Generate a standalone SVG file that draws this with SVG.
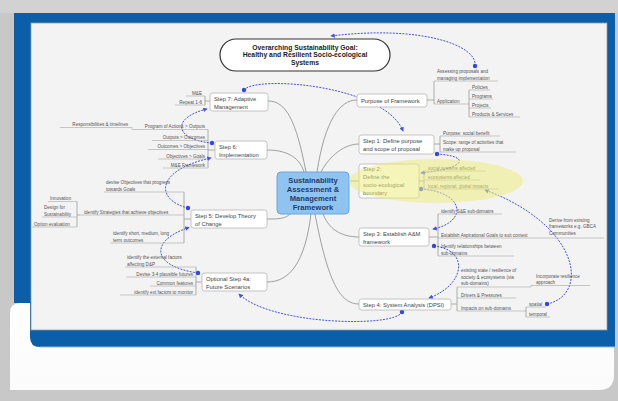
<svg xmlns="http://www.w3.org/2000/svg" width="618" height="401" viewBox="0 0 618 401">
<defs>
<style>
text{font-family:"Liberation Sans",Arial,sans-serif;}
.title{font-size:6.8px;font-weight:bold;fill:#222;text-anchor:middle;}
.core{font-size:7.6px;font-weight:bold;fill:#1d3c6e;text-anchor:middle;}
.step{font-size:5.8px;fill:#444;}
.sub{font-size:4.6px;fill:#555;}
.end{text-anchor:end;}
.box{fill:#fff;stroke:#b5b5b5;stroke-width:0.8;}
.ul{stroke:#a8a8a8;stroke-width:0.6;fill:none;}
.br{stroke:#9a9a9a;stroke-width:0.8;fill:none;}
.rel{stroke:#4654dc;stroke-width:1;stroke-dasharray:2 1.2;fill:none;marker-end:url(#arr);}
.dot{fill:#3347e0;}
</style>
<marker id="arr" viewBox="0 0 6 6" refX="5" refY="3" markerWidth="4.5" markerHeight="4.5" markerUnits="userSpaceOnUse" orient="auto">
<path d="M0,0 L6,3 L0,6 z" fill="#4654dc"/>
</marker>
<linearGradient id="bot" x1="0" y1="0" x2="0" y2="1">
<stop offset="0" stop-color="#ffffff"/><stop offset="1" stop-color="#fbfbfb"/>
</linearGradient>
</defs>

<!-- background / frame -->
<rect x="0" y="0" width="618" height="401" fill="#c8c8c8"/>
<rect x="0" y="0" width="618" height="13" fill="#d2d2d2"/>
<path d="M10,313 Q10,303 20,303 H614 V375 Q614,390 599,390 H10 Z" fill="url(#bot)"/>
<path d="M14,13 H615 V347 H40 Q30,347 30,337 V303 H14 Z" fill="#0b5ea8"/>
<path d="M40,347 H615" stroke="#8ec0e6" stroke-width="1"/>
<rect x="31" y="23" width="576" height="307" fill="#f3f3f3" stroke="#9a9a9a" stroke-width="0.8"/>

<!-- connectors -->
<g id="connectors">
<g fill="none" stroke="#8a8a8a" stroke-width="0.8">
<path d="M306,172 C296,120 286,101 268,101"/>
<path d="M304,172 C299,156 285,150 267,150"/>
<path d="M317,172 C325,120 340,100 357,100"/>
<path d="M321,172 C330,155 345,144 359,144"/>
<path d="M349,181 H359"/>
<path d="M290,214 C285,219 278,219 267,219"/>
<path d="M311,214 C305,262 290,282 267,282"/>
<path d="M323,214 C330,232 345,237 359,237"/>
<path d="M315,214 C328,282 340,304 359,304"/>
</g>
<!-- right side brackets -->
<path class="br" d="M427,100 H434 M434,81 V104 M468,104 H469 M469,90 V117"/>
<path class="br" d="M434,144 H440 M440,136 V152"/>
<path class="br" d="M419,181 H424 M424,171 V189"/>
<path class="br" d="M429,237 H438 M438,214 V256"/>
<path class="br" d="M451,304 H457 M457,287 V311 M525,311 H526 M526,307 V317"/>
<!-- left side brackets -->
<path class="br" d="M210,101 H205 M205,96 V105"/>
<path class="br" d="M215,150 H208 M208,129.5 V168"/>
<path class="br" d="M191,219 H184 M184,192 V243 M80,215 H77 M77,201.5 V227"/>
<path class="br" d="M202,282 H196 M196,267 V295"/>
<!-- relationship links -->
<path class="rel" d="M475,66 C478,45 420,25 331,36"/>
<path class="rel" d="M244,90 C255,75 385,85 403,131"/>
<path class="rel" d="M212,143 C175,140 170,118 207,109"/>
<path class="rel" d="M188,208 C155,200 155,170 211,158"/>
<path class="rel" d="M198,273 C150,266 150,240 189,227.5"/>
<path class="rel" d="M402,312 C395,328 270,325 239,294"/>
<path class="rel" d="M437,154 C470,156 468,168 421,173"/>
<path class="rel" d="M421,189 C465,192 468,222 433,229"/>
<path class="rel" d="M434,246 C470,250 465,285 429,298"/>
<path class="rel" d="M547,304 C590,295 580,225 485,190"/>
<circle class="dot" cx="475" cy="66" r="2.2"/>
<circle class="dot" cx="244" cy="90" r="2.2"/>
<circle class="dot" cx="212" cy="143" r="2.2"/>
<circle class="dot" cx="188" cy="208" r="2.2"/>
<circle class="dot" cx="198" cy="273" r="2.2"/>
<circle class="dot" cx="402" cy="312" r="2.2"/>
<circle class="dot" cx="437" cy="154" r="2.2"/>
<circle class="dot" cx="421" cy="189" r="2.2"/>
<circle class="dot" cx="434" cy="246" r="2.2"/>
<circle class="dot" cx="547" cy="304" r="2.2"/>
</g>

<!-- title -->
<g id="goal">
<rect x="220" y="39" width="170" height="32" rx="16" fill="#fff" stroke="#333" stroke-width="1.2"/>
<text class="title" x="305" y="49.5">Overarching Sustainability Goal:</text>
<text class="title" x="305" y="57">Healthy and Resilient Socio-ecological</text>
<text class="title" x="305" y="64.5">Systems</text>
</g>

<!-- central -->
<g id="central">
<rect x="277" y="172" width="72" height="42" rx="4" fill="#8fc4f0" stroke="#6aa6dc" stroke-width="1"/>
<text class="core" x="313" y="182.5">Sustainability</text>
<text class="core" x="313" y="191.5">Assessment &amp;</text>
<text class="core" x="313" y="200.5">Management</text>
<text class="core" x="313" y="209.5">Framework</text>
</g>

<!-- steps -->
<g id="step7">
<rect class="box" x="210" y="93" width="58" height="18" rx="2.5"/>
<text class="step" x="214" y="100.5">Step 7: Adaptive</text>
<text class="step" x="214" y="108.5">Management</text>
<text class="sub end" x="202" y="95">M&amp;E</text><path class="ul" d="M186,96 H205"/>
<text class="sub end" x="202" y="104">Repeat 1-6</text><path class="ul" d="M175,105 H205"/>
</g>

<g id="step6">
<rect class="box" x="215" y="141" width="52" height="18" rx="2.5"/>
<text class="step" x="219" y="148.5">Step 6:</text>
<text class="step" x="219" y="156.5">Implementation</text>
<text class="sub end" x="205" y="128">Program of Actions &gt; Outputs</text><path class="ul" d="M132,129.5 H208"/>
<text class="sub end" x="128" y="126">Responsibilities &amp; timelines</text><path class="ul" d="M60,127.5 H132 V129.5"/>
<text class="sub end" x="205" y="139">Outputs &gt; Outcomes</text><path class="ul" d="M152,140.5 H208"/>
<text class="sub end" x="205" y="148">Outcomes &gt; Objectives</text><path class="ul" d="M148,149.5 H208"/>
<text class="sub end" x="205" y="157.5">Objectives &gt; Goals</text><path class="ul" d="M158,159 H208"/>
<text class="sub end" x="205" y="166.5">M&amp;E Framework</text><path class="ul" d="M163,168 H208"/>
</g>

<g id="step5">
<rect class="box" x="191" y="210" width="76" height="18" rx="2.5"/>
<text class="step" x="195" y="217.5">Step 5: Develop Theory</text>
<text class="step" x="195" y="225.5">of Change</text>
<text class="sub" x="106" y="184">devise Objectives that progress</text>
<text class="sub" x="106" y="190.5">towards Goals</text><path class="ul" d="M104,192 H184"/>
<text class="sub" x="84" y="213.5">identify Strategies that achieve objectives</text><path class="ul" d="M80,215 H184"/>
<text class="sub" x="50" y="200">Innovation</text><path class="ul" d="M48,201.5 H77"/>
<text class="sub" x="44" y="209">Design for</text>
<text class="sub" x="44" y="215.5">Sustainability</text><path class="ul" d="M42,217 H77"/>
<text class="sub" x="34" y="225.5">Option evaluation</text><path class="ul" d="M32,227 H77"/>
<text class="sub" x="113" y="235">identify short, medium, long</text>
<text class="sub" x="113" y="241.5">term outcomes</text><path class="ul" d="M110,243 H184"/>
</g>

<g id="step4a">
<rect class="box" x="202" y="273" width="65" height="18" rx="2.5"/>
<text class="step" x="206" y="280.5">Optional Step 4a:</text>
<text class="step" x="206" y="288.5">Future Scenarios</text>
<text class="sub" x="127" y="259">identify the external factors</text>
<text class="sub" x="127" y="265.5">affecting D&amp;P</text><path class="ul" d="M125,267 H196"/>
<text class="sub end" x="193" y="275.5">Devise 3-4 plausible futures</text><path class="ul" d="M126,277 H196"/>
<text class="sub end" x="193" y="284.5">Common features</text><path class="ul" d="M150,286 H196"/>
<text class="sub end" x="193" y="293.5">identify ext factors to monitor</text><path class="ul" d="M120,295 H196"/>
</g>

<g id="purpose">
<rect class="box" x="357" y="94" width="70" height="13" rx="2.5"/>
<text class="step" x="361" y="102.5">Purpose of Framework</text>
<text class="sub" x="437" y="73">Assessing proposals and</text>
<text class="sub" x="437" y="79.5">managing implementation</text><path class="ul" d="M434,81 H498"/>
<text class="sub" x="437" y="102.5">Application</text><path class="ul" d="M434,104 H468"/>
<text class="sub" x="472" y="88.5">Policies</text><path class="ul" d="M469,90 H490"/>
<text class="sub" x="472" y="97.5">Programs</text><path class="ul" d="M469,99 H493"/>
<text class="sub" x="472" y="106.5">Projects</text><path class="ul" d="M469,108 H491"/>
<text class="sub" x="472" y="115.5">Products &amp; Services</text><path class="ul" d="M469,117 H520"/>
</g>

<g id="step1">
<rect class="box" x="359" y="135" width="75" height="19" rx="2.5"/>
<text class="step" x="363" y="142.5">Step 1: Define purpose</text>
<text class="step" x="363" y="150.5">and scope of proposal</text>
<text class="sub" x="443" y="134.5">Purpose: social benefit</text><path class="ul" d="M440,136 H500"/>
<text class="sub" x="443" y="143.5">Scope: range of activities that</text>
<text class="sub" x="443" y="150.5">make up proposal</text><path class="ul" d="M440,152 H516"/>
</g>

<g id="step2">
<rect class="box" x="359" y="164" width="60" height="34" rx="2.5"/>
<text class="step" x="363" y="171">Step 2:</text>
<text class="step" x="363" y="179">Define the</text>
<text class="step" x="363" y="187">socio-ecological</text>
<text class="step" x="363" y="195">boundary</text>
<text class="sub" x="428" y="169.5">social systems affected</text><path class="ul" d="M424,171 H486"/>
<text class="sub" x="428" y="178.5">ecosystems affected</text><path class="ul" d="M424,180 H480"/>
<text class="sub" x="428" y="187.5">local, regional, global impacts</text><path class="ul" d="M424,189 H499"/>
<ellipse cx="436" cy="181" rx="87" ry="22" fill="#ecec80" fill-opacity="0.55"/>
</g>

<g id="step3">
<rect class="box" x="359" y="228" width="70" height="18" rx="2.5"/>
<text class="step" x="363" y="235.5">Step 3: Establish A&amp;M</text>
<text class="step" x="363" y="243.5">framework</text>
<text class="sub" x="441" y="212.5">identify S&amp;E sub-domains</text><path class="ul" d="M438,214 H502"/>
<text class="sub" x="441" y="236.5">Establish Aspirational Goals to suit context</text><path class="ul" d="M438,238 H604"/>
<text class="sub" x="549" y="221.5">Derive from existing</text>
<text class="sub" x="549" y="228">frameworks e.g. GBCA</text>
<text class="sub" x="549" y="234.5">Communities</text>
<text class="sub" x="441" y="248">Identify relationships between</text>
<text class="sub" x="441" y="254.5">sub-domains</text><path class="ul" d="M438,256 H514"/>
</g>

<g id="step4">
<rect class="box" x="359" y="299" width="92" height="11" rx="2.5"/>
<text class="step" x="363" y="306.5">Step 4: System Analysis (DPSI)</text>
<text class="sub" x="461" y="272">existing state / resilience of</text>
<text class="sub" x="461" y="278.5">society &amp; ecosystems (via</text>
<text class="sub" x="461" y="285">sub-domains)</text><path class="ul" d="M457,287 H531 V285.5 H590"/>
<text class="sub" x="536" y="277.5">Incorporate resilience</text>
<text class="sub" x="536" y="284">approach</text>
<text class="sub" x="461" y="296.5">Drivers &amp; Pressures</text><path class="ul" d="M457,298 H516"/>
<text class="sub" x="461" y="309.5">Impacts on sub-domains</text><path class="ul" d="M457,311 H525"/>
<text class="sub" x="529" y="305.5">spatial</text><path class="ul" d="M526,307 H546"/>
<text class="sub" x="529" y="315.5">temporal</text><path class="ul" d="M526,317 H550"/>
</g>
</svg>
